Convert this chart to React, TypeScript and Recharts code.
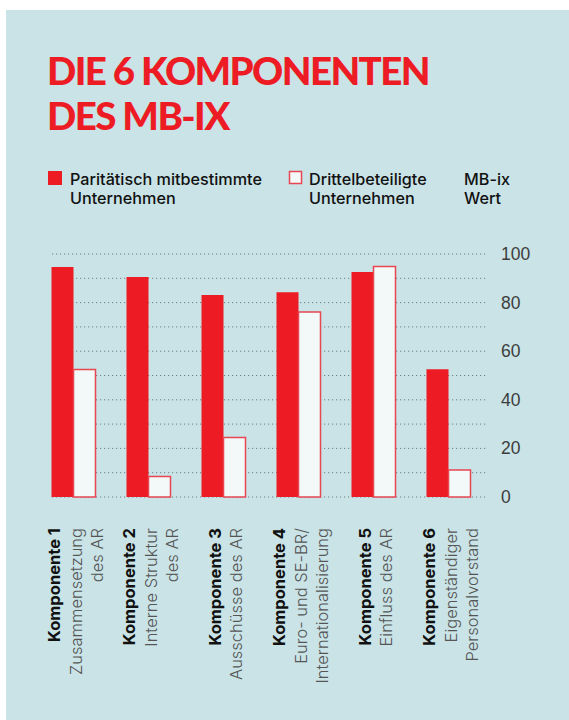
import React from "react";
import { BarChart, Bar, XAxis, YAxis, CartesianGrid } from "recharts";

const komponenten = ["Komponente 1", "Komponente 2", "Komponente 3", "Komponente 4", "Komponente 5", "Komponente 6"];
const beschreibung = [
  ["Zusammensetzung", "des AR"],
  ["Interne Struktur", "des AR"],
  ["Ausschüsse des AR"],
  ["Euro- und SE-BR/", "Internationalisierung"],
  ["Einfluss des AR"],
  ["Eigenständiger", "Personalvorstand"],
];
const paritaetisch = [94.6, 90.5, 83.1, 84.3, 92.6, 52.6];
const drittel = [52.5, 8.4, 24.5, 76.1, 94.9, 11.1];
const yTicks = [0, 10, 20, 30, 40, 50, 60, 70, 80, 90, 100];

const data = komponenten.map((k, i) => ({ name: k, par: paritaetisch[i], dri: drittel[i] }));

const RED = "#ed1c24";
const BG = "#c9e3e6";

function XTick({ x, y, index }: any) {
  const lines = [komponenten[index], ...beschreibung[index]];
  const n = lines.length;
  return (
    <text transform={`translate(${x},${y + 23}) rotate(-90)`} textAnchor="end" fontFamily="Inter" fontSize={16.5}>
      {lines.map((l, i) => (
        <tspan key={i} x={0} y={(i - (n - 1) / 2) * 21.5 + 2.5} dominantBaseline="central"
          fontWeight={i === 0 ? 700 : 300} fill={i === 0 ? "#111" : "#555"}>
          {l}
        </tspan>
      ))}
    </text>
  );
}

function YTick({ x, y, payload }: any) {
  if (payload.value % 20 !== 0) return null;
  return (
    <text x={x + 15.5} y={y} dominantBaseline="central" fontFamily="Liberation Sans" fontSize={17.5} fill="#3d3d3d">
      {payload.value}
    </text>
  );
}

export default function App() {
  return (
    <div style={{ position: "absolute", left: 6, top: 10, width: 563, height: 710, background: BG }}>
      <svg width={563} height={230} style={{ position: "absolute", left: 0, top: 0 }}>
        <g fontFamily="Lato" fontWeight={900} fontSize={38.5} fill={RED} letterSpacing={-1.6}>
          <text x={41} y={75}>DIE 6 KOMPONENTEN</text>
          <text x={41} y={120}>DES MB-IX</text>
        </g>
        <rect x={42} y={161} width={14} height={14} fill={RED} />
        <rect x={283.5} y={161.5} width={12} height={12} fill="#f3f9f8" stroke="#e84650" strokeWidth={1.5} />
        <g fontFamily="Inter" fontWeight={500} fontSize={16.2} fill="#111">
          <text x={64} y={175}>Paritätisch mitbestimmte</text>
          <text x={64} y={194}>Unternehmen</text>
          <text x={303} y={175}>Drittelbeteiligte</text>
          <text x={303} y={194}>Unternehmen</text>
          <text x={458} y={175}>MB-ix</text>
          <text x={458} y={194}>Wert</text>
        </g>
      </svg>
      <div style={{ position: "absolute", left: 0, top: 0 }}>
        <BarChart width={563} height={710} data={data} barGap={0} barSize={22}
          margin={{ top: 244, left: 29.5, right: 23.5, bottom: 23 }}>
          <CartesianGrid vertical={false} x={46} width={435} stroke="#6f8082" strokeDasharray="1.2 2.8" />
          <XAxis dataKey="name" axisLine={false} tickLine={false} height={200} interval={0} tick={<XTick />} />
          <YAxis orientation="right" domain={[0, 100]} ticks={yTicks} axisLine={false} tickLine={false}
            tickSize={0} tickMargin={0} width={60} tick={<YTick />} />
          <Bar dataKey="par" fill={RED} isAnimationActive={false} />
          <Bar dataKey="dri" fill="#f3f9f8" stroke="#e84650" strokeWidth={1.5} isAnimationActive={false} />
        </BarChart>
      </div>
    </div>
  );
}
